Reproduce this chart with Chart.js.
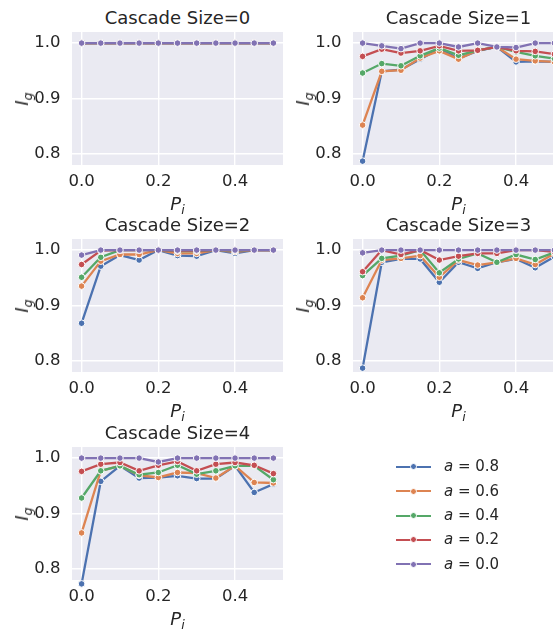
<!DOCTYPE html>
<html><head><meta charset="utf-8">
<script src="https://cdn.jsdelivr.net/npm/chart.js@4.4.1/dist/chart.umd.min.js"></script>
<style>
html,body{margin:0;padding:0;background:#fff;width:553px;height:629px;overflow:hidden;}
body{position:relative;font-family:"DejaVu Sans";color:#262626;}
canvas{position:absolute;}
.t{position:absolute;white-space:nowrap;line-height:1;font-family:"DejaVu Sans";color:#262626;}
.title{font-size:18px;transform:translateX(-50%);}
.xl{font-size:18px;transform:translateX(-50%);}
.yl{font-size:18px;transform:translate(-50%,-50%) rotate(-90deg);}
sub{font-size:70%;vertical-align:-0.3em;line-height:0;}
.lgline{position:absolute;height:2px;}
.lgdot{position:absolute;width:5px;height:5px;border-radius:50%;border:1px solid #fff;}
.lgtext{position:absolute;font-size:15px;line-height:1;white-space:nowrap;}
</style>
</head><body>
<script>
// ---- data ----
const pValues = [0.0, 0.05, 0.1, 0.15, 0.2, 0.25, 0.3, 0.35, 0.4, 0.45, 0.5];
const cascadeSizes = [0, 1, 2, 3, 4];
const alphaLabels = ['0.8', '0.6', '0.4', '0.2', '0.0'];
const xTickValues = [0.0, 0.2, 0.4];
const yTickValues = [0.8, 0.9, 1.0];

// Cascade Size = 0
const c0_a08 = [1, 1, 1, 1, 1, 1, 1, 1, 1, 1, 1];
const c0_a06 = [1, 1, 1, 1, 1, 1, 1, 1, 1, 1, 1];
const c0_a04 = [1, 1, 1, 1, 1, 1, 1, 1, 1, 1, 1];
const c0_a02 = [1, 1, 1, 1, 1, 1, 1, 1, 1, 1, 1];
const c0_a00 = [1, 1, 1, 1, 1, 1, 1, 1, 1, 1, 1];
// Cascade Size = 1
const c1_a08 = [0.787, 0.949, 0.952, 0.971, 0.990, 0.972, 0.986, 0.993, 0.966, 0.967, 0.966];
const c1_a06 = [0.852, 0.949, 0.951, 0.973, 0.986, 0.971, 0.987, 0.993, 0.971, 0.968, 0.966];
const c1_a04 = [0.946, 0.963, 0.959, 0.977, 0.991, 0.978, 0.987, 0.993, 0.984, 0.977, 0.972];
const c1_a02 = [0.976, 0.989, 0.982, 0.986, 0.995, 0.986, 0.987, 0.993, 0.986, 0.985, 0.980];
const c1_a00 = [1.000, 0.995, 0.990, 1.000, 1.000, 0.993, 1.000, 0.993, 0.992, 1.000, 1.000];
// Cascade Size = 2
const c2_a08 = [0.868, 0.971, 0.991, 0.982, 1.000, 0.990, 0.989, 1.000, 0.994, 1.000, 1.000];
const c2_a06 = [0.935, 0.980, 0.992, 0.992, 1.000, 0.994, 0.994, 1.000, 0.997, 1.000, 1.000];
const c2_a04 = [0.951, 0.987, 1.000, 1.000, 1.000, 0.998, 0.998, 1.000, 0.999, 1.000, 1.000];
const c2_a02 = [0.974, 0.999, 1.000, 1.000, 1.000, 0.999, 0.999, 1.000, 1.000, 1.000, 1.000];
const c2_a00 = [0.991, 1.000, 1.000, 1.000, 1.000, 1.000, 1.000, 1.000, 1.000, 1.000, 1.000];
// Cascade Size = 3
const c3_a08 = [0.787, 0.978, 0.984, 0.984, 0.942, 0.978, 0.967, 0.978, 0.984, 0.968, 0.988];
const c3_a06 = [0.914, 0.982, 0.985, 0.990, 0.951, 0.982, 0.973, 0.978, 0.985, 0.974, 0.994];
const c3_a04 = [0.954, 0.985, 0.990, 1.000, 0.959, 0.984, 0.994, 0.978, 0.992, 0.983, 0.996];
const c3_a02 = [0.961, 1.000, 0.992, 1.000, 0.982, 0.989, 0.994, 0.994, 1.000, 1.000, 0.997];
const c3_a00 = [0.995, 1.000, 1.000, 1.000, 1.000, 1.000, 1.000, 1.000, 1.000, 1.000, 1.000];
// Cascade Size = 4
const c4_a08 = [0.773, 0.958, 0.986, 0.964, 0.965, 0.968, 0.963, 0.963, 0.986, 0.938, 0.953];
const c4_a06 = [0.865, 0.977, 0.986, 0.969, 0.965, 0.974, 0.973, 0.964, 0.986, 0.956, 0.955];
const c4_a04 = [0.928, 0.977, 0.986, 0.970, 0.974, 0.987, 0.971, 0.977, 0.986, 0.986, 0.961];
const c4_a02 = [0.976, 0.989, 0.992, 0.977, 0.987, 0.994, 0.977, 0.989, 0.992, 0.987, 0.972];
const c4_a00 = [1.000, 1.000, 1.000, 1.000, 0.993, 1.000, 1.000, 1.000, 1.000, 1.000, 1.000];

const cascadeSeries = [
  [c0_a08, c0_a06, c0_a04, c0_a02, c0_a00],
  [c1_a08, c1_a06, c1_a04, c1_a02, c1_a00],
  [c2_a08, c2_a06, c2_a04, c2_a02, c2_a00],
  [c3_a08, c3_a06, c3_a04, c3_a02, c3_a00],
  [c4_a08, c4_a06, c4_a04, c4_a02, c4_a00]
];

// ---- style / layout ----
const colors = ['#4C72B0', '#DD8452', '#55A868', '#C44E52', '#8172B3'];
const AX_W = 72, AX_H = 40, PLOT_W = 211, PLOT_H = 133;
const positions = [[72, 32], [353, 32], [72, 239], [353, 239], [72, 447]];
const FONT = 'DejaVu Sans';

const bgPlugin = {
  id: 'bg',
  beforeDraw(c) {
    const a = c.chartArea, ctx = c.ctx;
    ctx.save(); ctx.fillStyle = '#EAEAF2';
    ctx.fillRect(a.left, a.top, a.right - a.left, a.bottom - a.top);
    ctx.restore();
  }
};

function addText(cls, html, left, top) {
  const d = document.createElement('div');
  d.className = 't ' + cls;
  d.innerHTML = html;
  d.style.left = left + 'px';
  d.style.top = top + 'px';
  document.body.appendChild(d);
}

cascadeSizes.forEach((cs, idx) => {
  const [L, T] = positions[idx];
  const cv = document.createElement('canvas');
  cv.width = AX_W + PLOT_W; cv.height = PLOT_H + AX_H;
  cv.style.left = (L - AX_W) + 'px'; cv.style.top = T + 'px';
  cv.style.width = cv.width + 'px'; cv.style.height = cv.height + 'px';
  document.body.appendChild(cv);

  const datasets = cascadeSeries[idx].map((vals, i) => ({
    label: 'a = ' + alphaLabels[i],
    data: pValues.map((p, k) => ({ x: p, y: vals[k] })),
    borderColor: colors[i], backgroundColor: colors[i],
    pointBackgroundColor: colors[i], pointBorderColor: '#ffffff',
    borderWidth: 2.3, pointRadius: 3.3, pointBorderWidth: 1,
    tension: 0, clip: false, order: 4 - i
  }));

  new Chart(cv, {
    type: 'line',
    data: { datasets },
    options: {
      responsive: false, animation: false, devicePixelRatio: 1,
      layout: { padding: 0, autoPadding: false },
      plugins: { legend: { display: false }, tooltip: { enabled: false }, title: { display: false } },
      scales: {
        x: {
          type: 'linear', min: -0.025, max: 0.525,
          afterBuildTicks(s) { s.ticks = xTickValues.map(v => ({ value: v })); },
          afterFit(s) { s.height = AX_H; s.paddingLeft = 0; s.paddingRight = 0; },
          ticks: { callback: v => v.toFixed(1), font: { family: FONT, size: 16.5 }, color: '#262626', padding: 7, maxRotation: 0, autoSkip: false },
          grid: { color: '#ffffff', lineWidth: 1.4, drawTicks: false },
          border: { display: false }
        },
        y: {
          type: 'linear', min: 0.78, max: 1.02,
          afterBuildTicks(s) { s.ticks = yTickValues.map(v => ({ value: v })); },
          afterFit(s) { s.width = AX_W; s.paddingTop = 0; s.paddingBottom = 0; },
          ticks: { callback: v => v.toFixed(1), font: { family: FONT, size: 16.5 }, color: '#262626', padding: 11.5, autoSkip: false },
          grid: { color: '#ffffff', lineWidth: 1.4, drawTicks: false },
          border: { display: false }
        }
      }
    },
    plugins: [bgPlugin]
  });

  const cx = L + PLOT_W / 2;
  addText('title', 'Cascade Size=' + cs, cx, T - 23.2);
  addText('xl', '<i>P</i><sub><i>i</i></sub>', cx, T + PLOT_H + 30);
  addText('yl', '<i>I</i><sub><i>g</i></sub>', L - 50, T + PLOT_H / 2);
});

// ---- legend ----
const legendTop = 466.7, legendStep = 24.4;
alphaLabels.forEach((a, i) => {
  const y = legendTop + i * legendStep;
  const ln = document.createElement('div');
  ln.className = 'lgline'; ln.style.left = '396px'; ln.style.width = '35px';
  ln.style.top = (y - 1) + 'px'; ln.style.background = colors[i];
  document.body.appendChild(ln);
  const dt = document.createElement('div');
  dt.className = 'lgdot'; dt.style.left = (413.3 - 3.5) + 'px'; dt.style.top = (y - 3.5) + 'px';
  dt.style.background = colors[i];
  document.body.appendChild(dt);
  const tx = document.createElement('div');
  tx.className = 'lgtext'; tx.style.left = '444px'; tx.style.top = (y - 7.5) + 'px';
  tx.innerHTML = '<i>a</i> = ' + a;
  document.body.appendChild(tx);
});
</script>
</body></html>
